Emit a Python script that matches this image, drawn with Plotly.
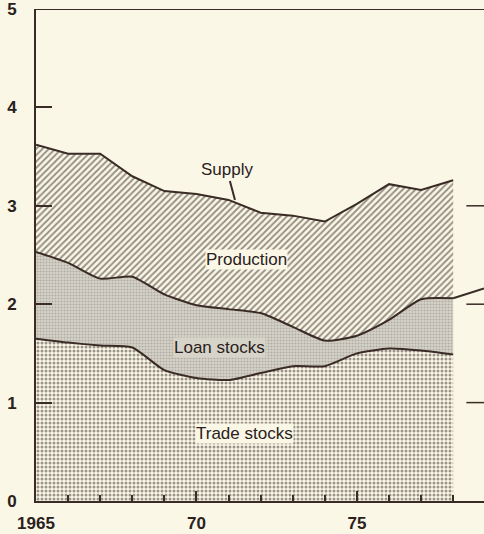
import plotly.graph_objects as go

years = list(range(1965, 1979))
trade_stocks = [1.65, 1.61, 1.58, 1.56, 1.33, 1.25, 1.23, 1.30, 1.37, 1.37, 1.50, 1.55, 1.53, 1.49]
loan_stocks = [0.88, 0.81, 0.68, 0.72, 0.77, 0.74, 0.72, 0.61, 0.40, 0.26, 0.18, 0.29, 0.52, 0.57]
production = [1.09, 1.11, 1.27, 1.02, 1.05, 1.13, 1.11, 1.02, 1.13, 1.21, 1.34, 1.38, 1.11, 1.20]
y_ticks = [0, 1, 2, 3, 4, 5]
x_ticks = [1965, 1970, 1975]
x_tick_labels = ["1965", "70", "75"]

BG = "#faf7e6"
LOAN_BG = "#d6d3c8"
INK = "#3a2b26"
X_END = 1978.96

fig = go.Figure()
fig.add_trace(go.Scatter(
    x=years, y=trade_stocks, stackgroup="s", mode="lines",
    line=dict(color=INK, width=2, shape="spline", smoothing=0.6),
    fillpattern=dict(shape=".", fgcolor="#3a302c", bgcolor=BG, size=4, solidity=0.45),
    name="Trade stocks"))
fig.add_trace(go.Scatter(
    x=years, y=loan_stocks, stackgroup="s", mode="lines",
    line=dict(color=INK, width=2, shape="spline", smoothing=0.6),
    fillpattern=dict(shape=".", fgcolor="#8c8882", bgcolor=LOAN_BG, size=3, solidity=0.4),
    name="Loan stocks"))
fig.add_trace(go.Scatter(
    x=years, y=production, stackgroup="s", mode="lines",
    line=dict(color=INK, width=2),
    fillpattern=dict(shape="/", fgcolor="#2e2420", bgcolor=BG, size=4.5, solidity=0.4),
    name="Production"))

loan_top = [a + b for a, b in zip(trade_stocks, loan_stocks)]

shapes = [
    dict(type="line", xref="x", yref="y", x0=1965, x1=X_END, y0=5, y1=5,
         line=dict(color=INK, width=2)),
    dict(type="line", xref="x", yref="y", x0=years[-1], x1=X_END,
         y0=loan_top[-1], y1=loan_top[-1] + 0.1, line=dict(color=INK, width=2)),
]
for v in [1, 2, 3]:
    shapes.append(dict(type="line", xref="x", yref="y", x0=X_END - 0.55, x1=X_END,
                       y0=v, y1=v, line=dict(color=INK, width=1.5)))

lab_font = dict(family="Liberation Sans, Arial", size=17, color="#2a201c")
annotations = [
    dict(x=1971.2, y=3.06, xref="x", yref="y", text="Supply", showarrow=True,
         arrowhead=0, arrowwidth=2, arrowcolor=INK, ax=-8, ay=-30, font=lab_font),
    dict(x=1971.57, y=2.45, text="Production", showarrow=False, font=lab_font,
         bgcolor=BG, borderpad=0),
    dict(x=1970.73, y=1.56, text="Loan stocks", showarrow=False, font=lab_font,
         bgcolor=LOAN_BG, borderpad=0),
    dict(x=1971.5, y=0.69, text="Trade stocks", showarrow=False, font=lab_font,
         bgcolor=BG, borderpad=0),
]

tick_font = dict(family="Liberation Sans, Arial", size=17, color="#2a201c", weight="bold")
fig.update_layout(
    width=484, height=534,
    margin=dict(l=36, r=0, t=9, b=33, autoexpand=False),
    paper_bgcolor=BG, plot_bgcolor=BG,
    showlegend=False,
    shapes=shapes, annotations=annotations,
    xaxis=dict(range=[1965, X_END], showgrid=False, zeroline=False, automargin=False,
               showline=True, linecolor=INK, linewidth=2,
               tickvals=x_ticks, ticktext=x_tick_labels, ticks="inside",
               ticklen=10, tickwidth=2, tickcolor=INK, tickfont=tick_font,
               ticklabelstandoff=6, ticklabeloverflow="allow",
               minor=dict(ticks="inside", dtick=1, tick0=1965, ticklen=6,
                          tickwidth=1.5, tickcolor=INK, showgrid=False)),
    yaxis=dict(range=[0, 5], showgrid=False, zeroline=False, automargin=False,
               showline=True, linecolor=INK, linewidth=2,
               tickvals=y_ticks, ticks="inside", ticklen=16, tickwidth=2,
               tickcolor=INK, tickfont=tick_font, ticklabelstandoff=14,
               ticklabeloverflow="allow"),
)

fig.write_html("out.html", config={"displayModeBar": False},
               post_script="document.body.style.margin='0';document.body.style.background='%s';" % BG)
